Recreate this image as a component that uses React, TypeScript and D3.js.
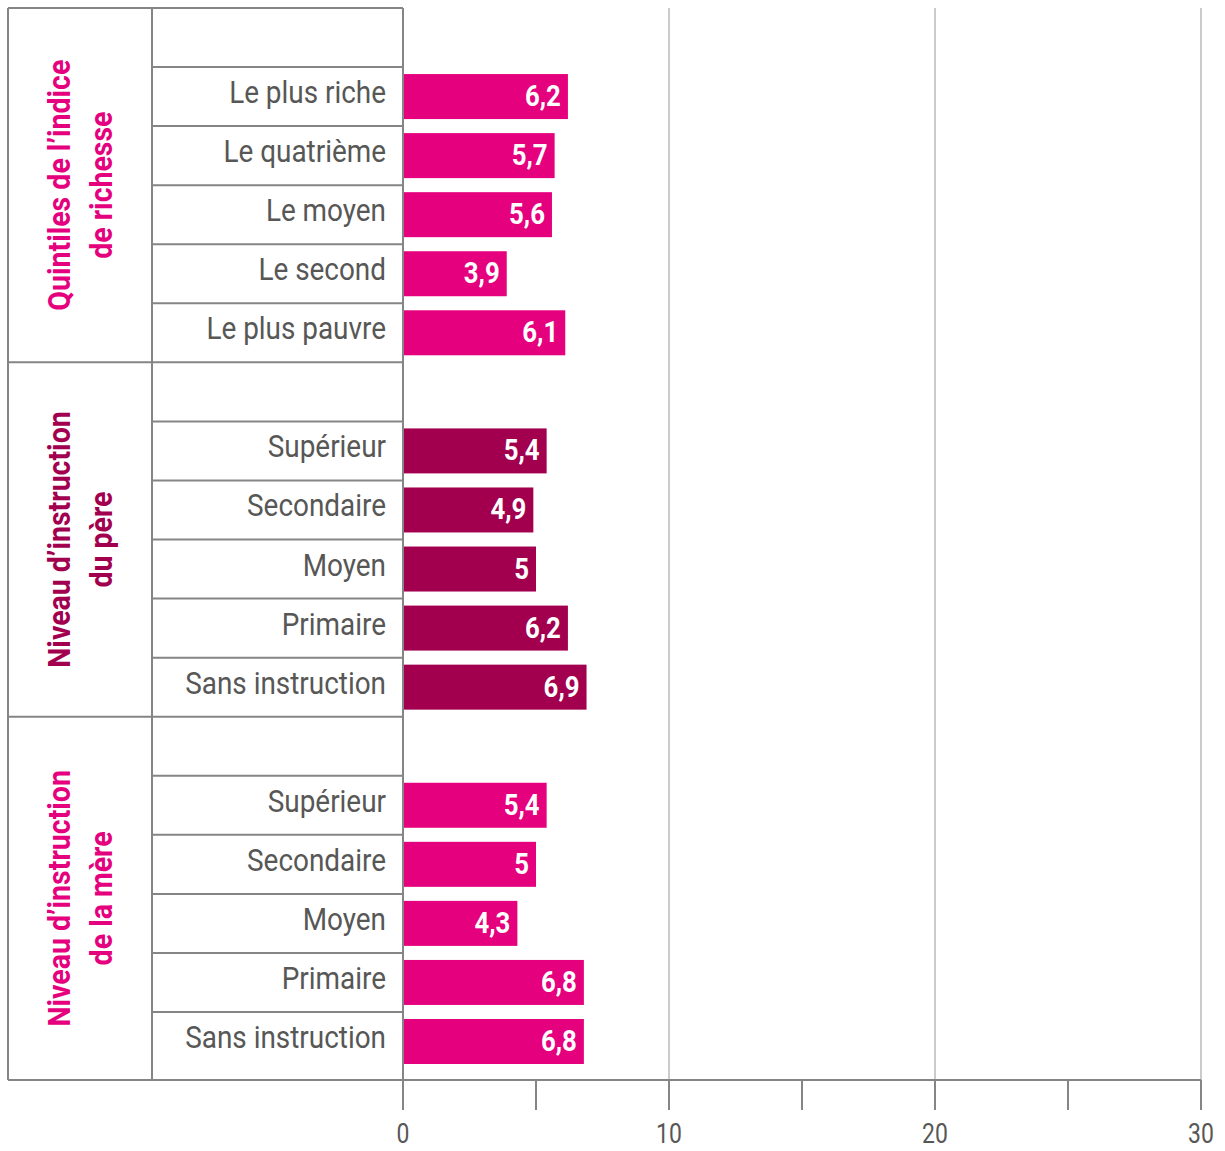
import React from "react";
import * as d3 from "d3";

const groupTitles: string[][] = [
  ["Quintiles de l’indice", "de richesse"],
  ["Niveau d’instruction", "du père"],
  ["Niveau d’instruction", "de la mère"],
];
const groupColors = ["#e5007d", "#a2004f", "#e5007d"];

const wealthCategories = ["Le plus riche", "Le quatrième", "Le moyen", "Le second", "Le plus pauvre"];
const wealthValues = [6.2, 5.7, 5.6, 3.9, 6.1];
const wealthLabels = ["6,2", "5,7", "5,6", "3,9", "6,1"];

const fatherCategories = ["Supérieur", "Secondaire", "Moyen", "Primaire", "Sans instruction"];
const fatherValues = [5.4, 4.9, 5, 6.2, 6.9];
const fatherLabels = ["5,4", "4,9", "5", "6,2", "6,9"];

const motherCategories = ["Supérieur", "Secondaire", "Moyen", "Primaire", "Sans instruction"];
const motherValues = [5.4, 5, 4.3, 6.8, 6.8];
const motherLabels = ["5,4", "5", "4,3", "6,8", "6,8"];

const xTicks = [0, 5, 10, 15, 20, 25, 30];
const xTickLabels = [0, 10, 20, 30];
const xGrid = [10, 20, 30];

const FONT = "Roboto, 'Noto Sans', sans-serif";

export default function App() {
  const W = 1225, H = 1151;
  const left = 8, col1 = 152, x0 = 403, xEnd = 1201, top = 8, bottom = 1080;
  const x = d3.scaleLinear().domain([0, 30]).range([x0, xEnd]);
  const y = d3.scaleLinear().domain([0, 17]).range([top, 1012]);

  const groups = [
    { cats: wealthCategories, vals: wealthValues, labels: wealthLabels },
    { cats: fatherCategories, vals: fatherValues, labels: fatherLabels },
    { cats: motherCategories, vals: motherValues, labels: motherLabels },
  ];
  const rowsPerGroup = 6;
  const lineColor = "#858585";
  const textGray = "#575756";

  const rowLines: number[] = [];
  for (let i = 1; i <= 17; i++) rowLines.push(i);

  return (
    <svg width={W} height={H} style={{ position: "absolute", left: 0, top: 0, background: "#fff" }}>
      {/* gridlines */}
      {xGrid.map((t) => (
        <line key={"g" + t} x1={x(t)} x2={x(t)} y1={top} y2={bottom} stroke="#a8a8a8" strokeWidth={1.2} />
      ))}
      {/* bars */}
      {groups.map((g, gi) =>
        g.vals.map((v, j) => {
          const r = gi * rowsPerGroup + 1 + j;
          const yt = y(r) + 7;
          return (
            <g key={`b${gi}-${j}`}>
              <rect x={x(0)} y={yt} width={x(v) - x(0)} height={45} fill={groupColors[gi]} />
              <g transform={`translate(${x(v) - 7}, ${y(r) + 39}) scale(0.86, 1)`}>
                <text
                  x={0}
                  y={0}
                  textAnchor="end"
                  fill="#fff"
                  fontFamily={FONT}
                  fontWeight="bold"
                  fontSize={30}
                >
                  {g.labels[j]}
                </text>
              </g>
            </g>
          );
        })
      )}
      {/* row lines in column 2 */}
      {rowLines.map((i) => (
        <line
          key={"r" + i}
          x1={i % rowsPerGroup === 0 ? left : col1}
          x2={x0}
          y1={y(i)}
          y2={y(i)}
          stroke={lineColor}
          strokeWidth={2}
        />
      ))}
      {/* table borders */}
      <line x1={left} x2={x0} y1={top} y2={top} stroke={lineColor} strokeWidth={2} />
      <line x1={left} x2={left} y1={top} y2={bottom} stroke={lineColor} strokeWidth={2} />
      <line x1={col1} x2={col1} y1={top} y2={bottom} stroke={lineColor} strokeWidth={2} />
      <line x1={x0} x2={x0} y1={top} y2={bottom} stroke={lineColor} strokeWidth={2} />
      <line x1={left} x2={xEnd} y1={bottom} y2={bottom} stroke={lineColor} strokeWidth={2} />
      {/* ticks */}
      {xTicks.map((t) => (
        <line key={"t" + t} x1={x(t)} x2={x(t)} y1={bottom} y2={bottom + 30} stroke={lineColor} strokeWidth={2} />
      ))}
      {xTickLabels.map((t) => (
        <g key={"tl" + t} transform={`translate(${x(t)}, 1143) scale(0.82, 1)`}>
          <text x={0} y={0} textAnchor="middle" fill={textGray} fontFamily={FONT} fontSize={28}>
            {t}
          </text>
        </g>
      ))}
      {/* category labels */}
      {groups.map((g, gi) =>
        g.cats.map((c, j) => {
          const r = gi * rowsPerGroup + 1 + j;
          return (
            <g key={`c${gi}-${j}`} transform={`translate(386, ${y(r) + 36}) scale(0.9, 1)`}>
              <text x={0} y={0} textAnchor="end" fill={textGray} fontFamily={FONT} fontSize={31}>
                {c}
              </text>
            </g>
          );
        })
      )}
      {/* group titles */}
      {groupTitles.map((lines, gi) => {
        const yTop = y(gi * rowsPerGroup);
        const yBot = gi === 2 ? bottom : y((gi + 1) * rowsPerGroup);
        const cy = (yTop + yBot) / 2;
        return (
          <g key={"gt" + gi} transform={`translate(0, ${cy}) rotate(-90) scale(0.92, 1)`}>
            {lines.map((l, li) => (
              <text
                key={li}
                x={0}
                y={70 + li * 42}
                textAnchor="middle"
                fill={groupColors[gi]}
                fontFamily={FONT}
                fontWeight="bold"
                fontSize={31}
              >
                {l}
              </text>
            ))}
          </g>
        );
      })}
    </svg>
  );
}
